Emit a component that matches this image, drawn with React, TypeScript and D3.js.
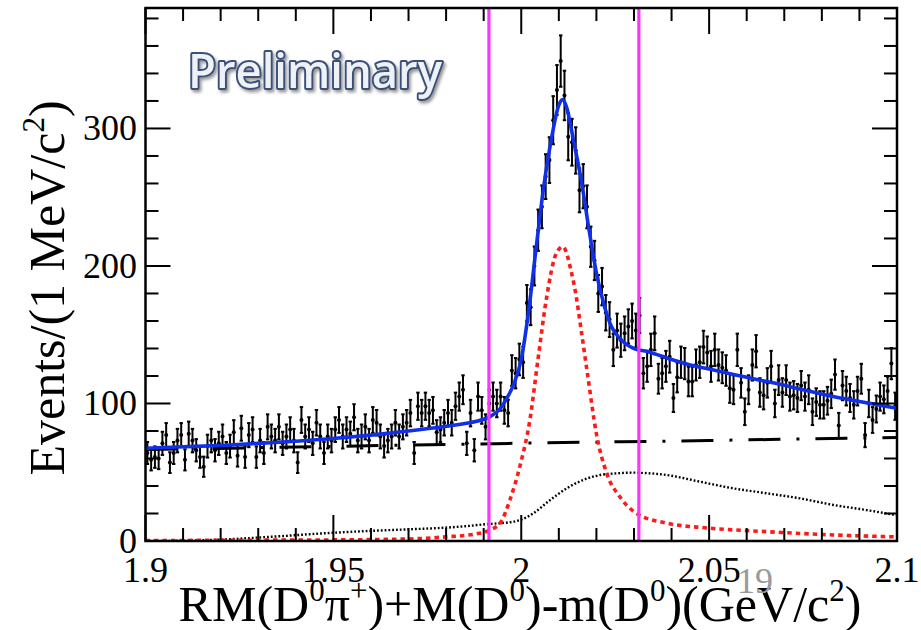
import React from 'react';
import * as d3 from 'd3';

const W = 921;
const H = 630;

// Histogram range: 1 MeV bins from 1.9 to 2.1 GeV/c^2
const X_MIN = 1.9;
const X_MAX = 2.1;
const BIN_WIDTH = 0.001;
const Y_MAX = 387.6;

// Events per bin
const counts: number[] = [
  // 1.900 - 1.933
  64, 59, 61, 60, 71, 77, 57, 64, 73, 77, 59, 78, 73, 66, 61, 54, 69, 73, 66, 71, 76, 64, 69, 79, 62, 82, 61, 77, 81, 61, 73, 64, 83,
  // 1.933 - 1.967
  76, 73, 83, 71, 76, 81, 73, 57, 88, 76, 81, 71, 86, 76, 64, 76, 73, 81, 88, 76, 81, 78, 90, 73, 76, 83, 73, 88, 86, 76, 69, 73, 76, 86,
  // 1.967 - 2.000
  76, 83, 86, 93, 64, 98, 93, 98, 93, 95, 79, 81, 86, 93, 86, 98, 105, 110, 71, 93, 66, 105, 95, 83, 100, 105, 100, 105, 95, 93, 124, 122, 132,
  // 2.000 - 2.032
  130, 173, 170, 200, 226, 243, 265, 277, 306, 328, 349, 324, 294, 290, 284, 255, 258, 243, 214, 204, 180, 185, 166, 161, 139, 153, 146, 151, 156, 160, 153, 164,
  // 2.032 - 2.100
  122, 127, 139, 151, 118, 122, 127, 134, 104, 119, 130, 129, 116, 116, 128, 130, 141, 137, 127, 139, 128, 126, 124, 111, 110, 139, 115, 94, 110, 128, 138, 108, 106, 115,
  127, 100, 117, 108, 117, 105, 106, 104, 113, 105, 110, 94, 101, 99, 99, 102, 107, 121, 84, 113, 109, 104, 99, 109, 118, 77, 100, 88, 96, 105, 103, 109, 129, 98,
];

// Total fit (mass, events)
const totalFit: [number, number][] = [
  [1.9, 67.5], [1.91, 68.5], [1.92, 69.5], [1.93, 71], [1.94, 72.5], [1.95, 74.5], [1.96, 77], [1.97, 80],
  [1.98, 83.5], [1.985, 85.5], [1.99, 88.5], [1.992, 91], [1.994, 95], [1.996, 103], [1.998, 114], [2.0, 132],
  [2.002, 168], [2.004, 214], [2.006, 258], [2.008, 292], [2.01, 317], [2.011, 321], [2.012, 316], [2.014, 290],
  [2.016, 262], [2.018, 227], [2.02, 195], [2.022, 172], [2.024, 156], [2.026, 148], [2.028, 143], [2.03, 140],
  [2.034, 137.5], [2.04, 132], [2.045, 128], [2.05, 125], [2.055, 122], [2.06, 119], [2.067, 115], [2.075, 110],
  [2.083, 105], [2.09, 101.5], [2.1, 96.5],
];

// Signal component
const signal: [number, number][] = [
  [1.9, 0.3], [1.93, 0.6], [1.95, 0.8], [1.97, 1.5], [1.98, 3], [1.9875, 5], [1.9917, 8], [1.9944, 13],
  [1.997, 30], [1.9997, 55], [2.0023, 88], [2.0045, 133], [2.0068, 178], [2.0093, 209], [2.0111, 214],
  [2.0133, 196], [2.0148, 175], [2.0156, 160], [2.0176, 122], [2.02, 78], [2.0227, 49.5], [2.0263, 32],
  [2.0307, 20], [2.0387, 13], [2.0494, 9.5], [2.0653, 6.8], [2.083, 4.4], [2.1, 3],
];

// Smooth combinatorial background
const linearBkg: [number, number][] = [
  [1.9, 66.5], [1.95, 68.8], [2.0, 71.1], [2.05, 73.1], [2.1, 75.3],
];

// Broad peaking background
const peakingBkg: [number, number][] = [
  [1.9, 0], [1.91, 0.2], [1.92, 1], [1.933, 3], [1.95, 6], [1.97, 8.5], [1.9787, 9.5], [1.9862, 11],
  [1.9914, 12.4], [1.9944, 12.9], [1.9997, 15.3], [2.0032, 20.1], [2.0077, 29.8], [2.0121, 38.3],
  [2.0165, 44.4], [2.021, 48], [2.0254, 49.2], [2.0298, 49.7], [2.0343, 49.2], [2.0387, 48],
  [2.0476, 43.1], [2.0564, 38.3], [2.0653, 34.7], [2.0742, 31], [2.0831, 26.2], [2.0919, 22.5], [2.1, 18.7],
];

// Signal window
const cutLines = [1.9914, 2.0313];

const xMajorTicks = [1.9, 1.95, 2.0, 2.05, 2.1];
const xTickLabels = ['1.9', '1.95', '2', '2.05', '2.1'];
const yMajorTicks = [0, 100, 200, 300];
const yTickLabels = ['0', '100', '200', '300'];

const LEFT = 145.5;
const RIGHT = 897;
const TOP = 8;
const BOTTOM = 541;

type Part = [string, boolean];

function RichText({ parts, fs }: { parts: Part[]; fs: number }) {
  const shift = fs * 0.4;
  const out: React.ReactNode[] = [];
  let raised = false;
  parts.forEach(([t, sup], i) => {
    let dy = 0;
    if (sup && !raised) { dy = -shift; raised = true; }
    else if (!sup && raised) { dy = shift; raised = false; }
    out.push(
      <tspan key={i} dy={dy || undefined} fontSize={sup ? fs * 0.62 : fs}>{t}</tspan>
    );
  });
  return <>{out}</>;
}

export default function App() {
  const x = d3.scaleLinear().domain([X_MIN, X_MAX]).range([LEFT, RIGHT]);
  const y = d3.scaleLinear().domain([0, Y_MAX]).range([BOTTOM, TOP]);

  const line = d3.line<[number, number]>()
    .x((d) => x(d[0]))
    .y((d) => y(d[1]))
    .curve(d3.curveMonotoneX);

  const xMinor = d3.range(0, 21).map((i) => X_MIN + i * 0.01);
  const yMinor = d3.range(0, 20).map((i) => i * 20);
  const isMajorX = (v: number) => xMajorTicks.some((m) => Math.abs(m - v) < 1e-6);
  const isMajorY = (v: number) => yMajorTicks.includes(v);

  const points = counts.map((c, i) => ({
    m: X_MIN + (i + 0.5) * BIN_WIDTH,
    c,
    e: Math.sqrt(c),
  }));

  const serif = "'Liberation Serif', 'Times New Roman', serif";

  return (
    <svg width={W} height={H} style={{ position: 'absolute', left: 0, top: 0, background: '#fff' }}
      xmlns="http://www.w3.org/2000/svg">
      <defs>
        <clipPath id="frame">
          <rect x={LEFT} y={TOP} width={RIGHT - LEFT} height={BOTTOM - TOP} />
        </clipPath>
        <filter id="shadow" x="-10%" y="-30%" width="130%" height="170%">
          <feDropShadow dx="2" dy="2.5" stdDeviation="1.6" floodColor="#000" floodOpacity="0.4" />
        </filter>
      </defs>

      <rect x={0} y={0} width={W} height={H} fill="#fff" />

      {/* fit components */}
      <g clipPath="url(#frame)" fill="none">
        <path d={line(peakingBkg) ?? ''} stroke="#000" strokeWidth={2.4} strokeDasharray="1.8 2" />
        <path d={line(linearBkg) ?? ''} stroke="#000" strokeWidth={3} strokeDasharray="32 16 3 16" />
        <path d={line(signal) ?? ''} stroke="#ff1a1a" strokeWidth={3.6} strokeDasharray="4.5 4" />
      </g>

      {/* data with statistical errors */}
      <g stroke="#000" strokeWidth={2}>
        {points.map((p, i) => {
          const cx = x(p.m);
          const y1 = y(p.c + p.e);
          const y2 = y(p.c - p.e);
          return (
            <g key={i}>
              <line x1={cx} x2={cx} y1={y1} y2={y2} />
              <line x1={cx - 1.7} x2={cx + 1.7} y1={y1} y2={y1} />
              <line x1={cx - 1.7} x2={cx + 1.7} y1={y2} y2={y2} />
              <circle cx={cx} cy={y(p.c)} r={2} fill="#000" stroke="none" />
            </g>
          );
        })}
      </g>

      <g clipPath="url(#frame)" fill="none">
        <path d={line(totalFit) ?? ''} stroke="#1030e8" strokeWidth={3.6} />
      </g>

      {/* signal window */}
      {cutLines.map((c, i) => (
        <line key={i} x1={x(c)} x2={x(c)} y1={TOP} y2={BOTTOM} stroke="#ff33ff" strokeWidth={3.2} />
      ))}

      {/* frame and ticks */}
      <rect x={LEFT} y={TOP} width={RIGHT - LEFT} height={BOTTOM - TOP} fill="none" stroke="#000" strokeWidth={2.5} />
      <g stroke="#000" strokeWidth={2}>
        {xMinor.map((v, i) => {
          const len = isMajorX(v) ? 26 : 13;
          const px = x(v);
          return (
            <g key={i}>
              <line x1={px} x2={px} y1={BOTTOM} y2={BOTTOM - len} />
              <line x1={px} x2={px} y1={TOP} y2={TOP + len} />
            </g>
          );
        })}
        {yMinor.map((v, i) => {
          const len = isMajorY(v) ? 25 : 13;
          const py = y(v);
          return (
            <g key={i}>
              <line x1={LEFT} x2={LEFT + len} y1={py} y2={py} />
              <line x1={RIGHT} x2={RIGHT - len} y1={py} y2={py} />
            </g>
          );
        })}
      </g>

      {/* tick labels */}
      <g fontFamily={serif} fontSize={36} fill="#000">
        {xMajorTicks.map((v, i) => (
          <text key={i} x={x(v)} y={582} textAnchor="middle">{xTickLabels[i]}</text>
        ))}
        {yMajorTicks.map((v, i) => (
          <text key={i} x={137} y={y(v) + 12} textAnchor="end">{yTickLabels[i]}</text>
        ))}
      </g>

      {/* axis titles */}
      <text x={520} y={621} textAnchor="middle" fontFamily={serif} fontSize={50} fill="#000">
        <RichText fs={50} parts={[
          ['RM(D', false], ['0', true], ['π', false], ['+', true], [')+M(D', false], ['0', true],
          [')-m(D', false], ['0', true], [')(GeV/c', false], ['2', true], [')', false],
        ]} />
      </text>
      <text transform="translate(64,288) rotate(-90)" textAnchor="middle" fontFamily={serif} fontSize={50} fill="#000">
        <RichText fs={50} parts={[['Events/(1 MeV/c', false], ['2', true], [')', false]]} />
      </text>

      {/* preliminary stamp */}
      <text x={188} y={88} fontFamily="'Open Sans', 'DejaVu Sans', sans-serif" fontWeight={600} fontSize={47}
        fill="#eef1f6" stroke="#3a5078" strokeWidth={4} paintOrder="stroke" strokeLinejoin="round"
        textLength={254} lengthAdjust="spacingAndGlyphs" filter="url(#shadow)">
        Preliminary
      </text>

      {/* slide number */}
      <text x={737} y={593} fontFamily={serif} fontSize={36} fill="#9a9a9a">19</text>
    </svg>
  );
}
